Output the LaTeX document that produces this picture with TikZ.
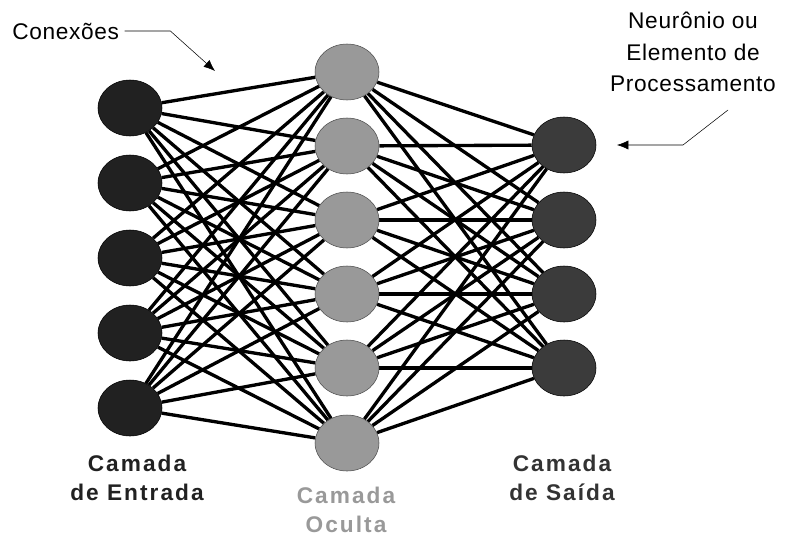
\documentclass[tikz,border=0pt]{standalone}
\usepackage{fontspec}
\setmainfont{Liberation Sans}
\usetikzlibrary{arrows.meta,positioning,shapes.geometric,backgrounds}
\tikzset{
 neuron/.style={draw,ellipse,minimum width=48pt,minimum height=42pt,inner sep=0pt},
 inp/.style={neuron,fill=black!87,draw=black},
 hid/.style={neuron,fill=black!40,draw=black!70,thin},
 outp/.style={neuron,fill=black!77,draw=black},
 link/.style={line width=2.5pt},
 note/.style={font=\fontsize{17}{23.5}\selectfont\addfontfeature{LetterSpace=3},align=center,inner sep=0pt},
 layername/.style={font=\fontsize{17}{21.5}\selectfont\bfseries\addfontfeature{LetterSpace=9},align=center,inner sep=0pt},
 pointer/.style={-{Latex[length=3mm,width=2.4mm]},thin}
}

\begin{document}
\begin{tikzpicture}[x=0.75pt,y=-0.75pt]
\useasboundingbox (0,0) rectangle (788,539);
% the three layers
\foreach \i/\y in {1/108,2/183,3/258,4/333,5/408}
  \node[inp] (i\i) at (130,\y) {};
\foreach \i/\y in {1/72,2/146,3/220,4/294,5/368,6/443}
  \node[hid] (h\i) at (347,\y) {};
\foreach \i/\y in {1/145,2/220,3/294,4/368}
  \node[outp] (o\i) at (564,\y) {};
% every neuron linked to every neuron of the next layer
\begin{scope}[on background layer]
\foreach \a in {1,...,5}
  \foreach \b in {1,...,6}
    \draw[link] (i\a) -- (h\b);
\foreach \a in {1,...,6}
  \foreach \b in {1,...,4}
    \draw[link] (h\a) -- (o\b);
\end{scope}
% callouts
\node[note,anchor=west] (conex) at (12,31) {Conexões};
\coordinate (conexTip) at (215,71);
\draw[pointer,shorten <=4pt] (conex.east) -- +(51,0) -- (conexTip);
\node[note] (neur) at (693,52) {Neurônio ou\\Elemento de\\Processamento};
\coordinate (neurTail) at (728,110);
\coordinate (neurTip) at (617,145);
\draw[pointer] (neurTail) -- (683,145) -- (neurTip);
% layer names
\node[layername,text=black!87] (inname) at (137,478) {Camada\\de Entrada};
\node[layername,text=black!40] (hidname) at (346,510) {Camada\\Oculta};
\node[layername,text=black!80] (outname) at (562,478) {Camada\\de Saída};
\end{tikzpicture}
\end{document}
